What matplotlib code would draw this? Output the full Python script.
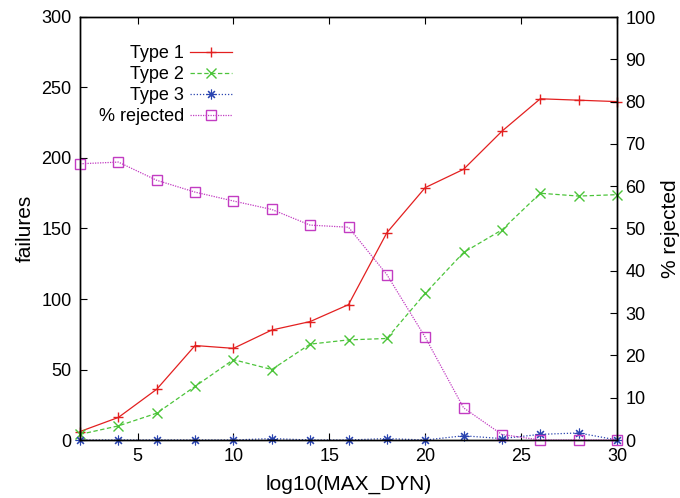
import matplotlib
matplotlib.use("Agg")
import matplotlib.pyplot as plt

plt.rcParams['font.family'] = ['Liberation Sans', 'DejaVu Sans']

# data
log_max_dyn = [2, 4, 6, 8, 10, 12, 14, 16, 18, 20, 22, 24, 26, 28, 30]
type1 = [6, 16, 36, 67, 65, 78, 84, 96, 147, 179, 192, 219, 242, 241, 240]
type2 = [4, 10, 19, 38, 57, 50, 68, 71, 72, 104, 133, 149, 175, 173, 174]
type3 = [0, 0, 0, 0, 0, 1, 0, 0, 1, 0, 3, 1, 4, 5, 0]
pct_rejected = [65.3, 65.7, 61.4, 58.6, 56.5, 54.5, 50.8, 50.3, 39.1, 24.3, 7.6, 1.3, 0, 0, 0]

fig = plt.figure(figsize=(6.8, 4.98), dpi=100)
ax = fig.add_axes([80 / 680, 58 / 498, 537 / 680, 423 / 498])
ax2 = ax.twinx()

lw = 0.9
ms = 7
h1, = ax.plot(log_max_dyn, type1, color='#e32020', lw=lw, marker='+', ms=ms,
              mew=1.0, label='Type 1', clip_on=False)
h2, = ax.plot(log_max_dyn, type2, color='#4cc43a', lw=lw, ls=(0, (3.5, 2)), marker='x',
              ms=ms, mew=1.0, label='Type 2', clip_on=False)
h3, = ax.plot(log_max_dyn, type3, color='#2a44b0', lw=lw, ls=(0, (1, 1.5)), marker=(8, 2, 0),
              ms=ms, mew=0.8, label='Type 3', clip_on=False)
h4, = ax2.plot(log_max_dyn, pct_rejected, color='#c23cc2', lw=lw, ls=(0, (1, 1)), marker='s',
               ms=ms, mew=1.0, mfc='none', label='% rejected', clip_on=False)

ax.set_xlim(2, 30)
ax.set_ylim(0, 300)
ax2.set_ylim(0, 100)
ax.set_xticks([5, 10, 15, 20, 25, 30])
ax.set_yticks(range(0, 301, 50))
ax2.set_yticks(range(0, 101, 10))

ax.tick_params(axis='x', direction='in', top=True, length=5, width=0.8, labelsize=13, pad=6)
ax.tick_params(axis='y', direction='in', right=False, length=5, width=0.8, labelsize=13, pad=6)
ax2.tick_params(axis='y', direction='in', length=5, width=0.8, labelsize=13, pad=6)
for sp in list(ax.spines.values()) + list(ax2.spines.values()):
    sp.set_linewidth(1.0)

ax.set_xlabel('log10(MAX_DYN)', fontsize=15, labelpad=7)
ax.set_ylabel('failures', fontsize=15, labelpad=5)
ax2.set_ylabel('% rejected', fontsize=15, labelpad=4)

leg = ax2.legend([h1, h2, h3, h4], ['Type 1', 'Type 2', 'Type 3', '% rejected'],
                 loc='upper right', bbox_to_anchor=(0.283, 0.934), frameon=False,
                 markerfirst=False, fontsize=13, handlelength=2.3, handletextpad=0.35,
                 labelspacing=0.22, borderpad=0, borderaxespad=0)

fig.savefig('out.png', dpi=100)
